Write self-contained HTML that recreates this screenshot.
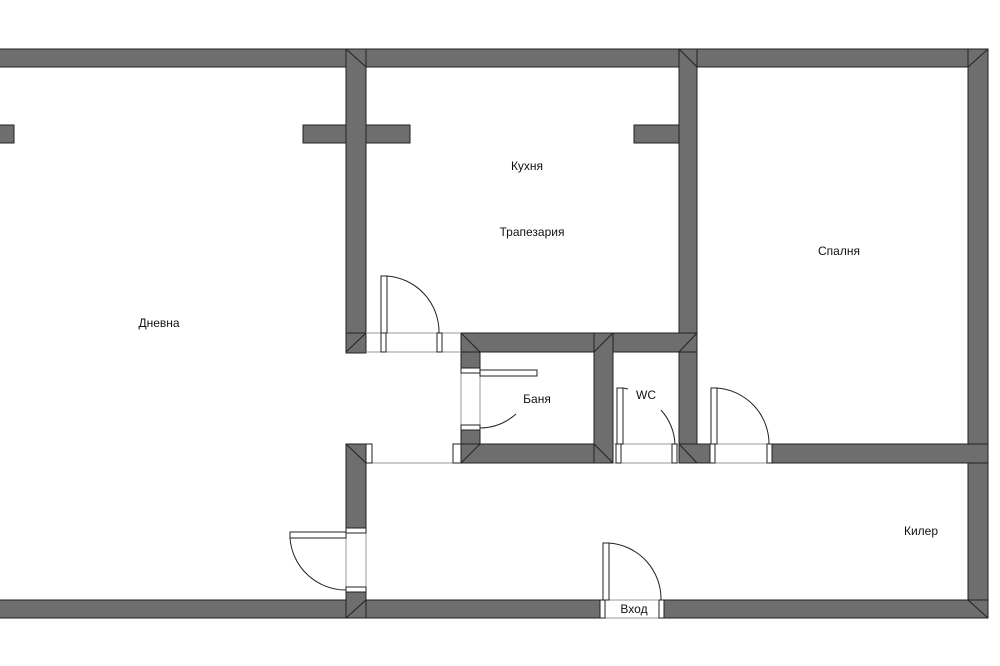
<!DOCTYPE html>
<html><head><meta charset="utf-8"><style>
html,body{margin:0;padding:0;background:#fff;width:1000px;height:666px;overflow:hidden}
svg{display:block}
text{font-family:"Liberation Sans","Noto Sans CJK SC",sans-serif;font-size:12px;fill:#111}
.w{fill:#6e6e6e;stroke:#222;stroke-width:1}
.d{fill:#fff;stroke:#222;stroke-width:1}
.a{fill:none;stroke:#222;stroke-width:1}
.t{fill:none;stroke:#999;stroke-width:1}
</style></head><body>
<svg width="1000" height="666" viewBox="0 0 1000 666">
<rect class="w" x="-2" y="49" width="990" height="18"/>
<rect class="w" x="968" y="49" width="20" height="569"/>
<rect class="w" x="-2" y="600" width="603" height="18"/>
<rect class="w" x="663" y="600" width="325" height="18"/>
<rect class="w" x="-2" y="125" width="16" height="18"/>
<rect class="w" x="303" y="125" width="107" height="18"/>
<rect class="w" x="634" y="125" width="46" height="18"/>
<rect class="w" x="346" y="49" width="20" height="304"/>
<rect class="w" x="346" y="444" width="20" height="84"/>
<rect class="w" x="346" y="592" width="20" height="26"/>
<rect class="w" x="679" y="49" width="18" height="414"/>
<rect class="w" x="461" y="333" width="236" height="19"/>
<rect class="w" x="461" y="352" width="19" height="18"/>
<rect class="w" x="461" y="428" width="19" height="35"/>
<rect class="w" x="461" y="444" width="152" height="19"/>
<rect class="w" x="594" y="333" width="19" height="130"/>
<rect class="w" x="679" y="444" width="31" height="19"/>
<rect class="w" x="772" y="444" width="216" height="19"/>
<g class="a">
<line x1="346" y1="49" x2="366" y2="67"/>
<line x1="679" y1="49" x2="697" y2="67"/>
<line x1="968" y1="67" x2="988" y2="49"/><line x1="968" y1="600" x2="988" y2="618"/>
<line x1="461" y1="333" x2="480" y2="352"/>
<line x1="594" y1="352" x2="613" y2="333"/>
<line x1="679" y1="352" x2="697" y2="333"/>
<line x1="461" y1="463" x2="480" y2="444"/>
<line x1="594" y1="444" x2="613" y2="463"/>
<line x1="346" y1="444" x2="366" y2="463"/>
<line x1="346" y1="618" x2="366" y2="600"/>
<line x1="697" y1="463" x2="679" y2="444"/>
</g>
<rect class="w" x="346" y="333" width="20" height="20"/>
<line class="a" x1="346" y1="352" x2="366" y2="333"/>
<line class="t" x1="366" y1="333" x2="461" y2="333"/><line class="t" x1="366" y1="352" x2="461" y2="352"/>
<rect class="d" x="381" y="333" width="5" height="19"/><rect class="d" x="437" y="333" width="5" height="19"/>
<rect class="d" x="381" y="276" width="6" height="57"/>
<path class="a" d="M387 276 A56 56 0 0 1 439 333"/>
<line class="t" x1="461" y1="370" x2="461" y2="428"/><line class="t" x1="480" y1="370" x2="480" y2="428"/>
<rect class="d" x="461" y="368" width="19" height="5"/><rect class="d" x="461" y="425" width="19" height="5"/>
<rect class="d" x="480" y="370" width="57" height="6"/>
<path class="a" d="M516 414 A55 55 0 0 1 480 428"/>
<line class="t" x1="366" y1="463" x2="461" y2="463"/>
<rect class="d" x="366" y="444" width="6" height="19"/><rect class="d" x="453" y="444" width="8" height="19"/>
<line class="t" x1="613" y1="444" x2="679" y2="444"/><line class="t" x1="613" y1="463" x2="679" y2="463"/>
<rect class="d" x="616" y="444" width="5" height="19"/><rect class="d" x="672" y="444" width="5" height="19"/>
<rect class="d" x="617" y="388" width="6" height="56"/>
<line class="a" x1="623" y1="388" x2="628" y2="389"/>
<path class="a" d="M661 410 A56 56 0 0 1 675 444"/>
<line class="t" x1="710" y1="444" x2="772" y2="444"/><line class="t" x1="710" y1="463" x2="772" y2="463"/>
<rect class="d" x="710" y="444" width="5" height="19"/><rect class="d" x="767" y="444" width="5" height="19"/>
<rect class="d" x="711" y="388" width="6" height="56"/>
<path class="a" d="M717 388 A56 56 0 0 1 769 444"/>
<line class="t" x1="346" y1="528" x2="346" y2="592"/><line class="t" x1="366" y1="528" x2="366" y2="592"/>
<rect class="d" x="346" y="528" width="20" height="5"/><rect class="d" x="346" y="587" width="20" height="5"/>
<rect class="d" x="290" y="532" width="56" height="6"/>
<path class="a" d="M290 538 A56 56 0 0 0 346 590"/>
<line class="t" x1="601" y1="600" x2="663" y2="600"/><line class="t" x1="601" y1="618" x2="663" y2="618"/>
<rect class="d" x="600" y="600" width="5" height="18"/><rect class="d" x="659" y="600" width="5" height="18"/>
<rect class="d" x="603" y="543" width="6" height="57"/>
<path class="a" d="M609 543 A56 56 0 0 1 661 600"/>
<text x="527" y="170" text-anchor="middle">Кухня</text>
<text x="532" y="236" text-anchor="middle">Трапезария</text>
<text x="839" y="255" text-anchor="middle">Спалня</text>
<text x="159" y="327" text-anchor="middle">Дневна</text>
<text x="537" y="403" text-anchor="middle">Баня</text>
<text x="646" y="399" text-anchor="middle">WC</text>
<text x="921" y="535" text-anchor="middle">Килер</text>
<text x="634" y="613" text-anchor="middle">Вход</text>
</svg>
</body></html>
